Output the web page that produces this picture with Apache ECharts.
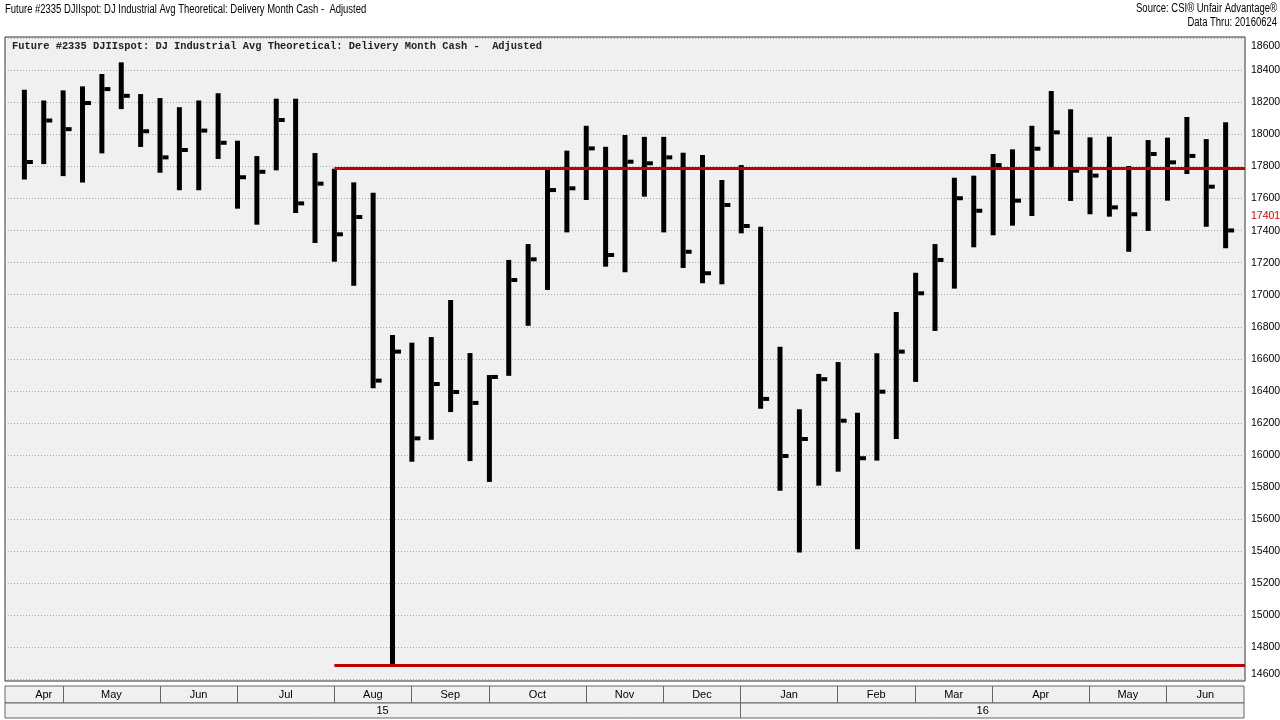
<!DOCTYPE html>
<html><head><meta charset="utf-8">
<script src="https://cdn.jsdelivr.net/npm/echarts@6/dist/echarts.min.js"></script>
<style>html,body{margin:0;padding:0;background:#fff}#c{width:1280px;height:720px}</style>
</head><body><div id="c"></div>
<script>
// Weekly bars (week ending Friday)
const weeks = [
 '2015-04-17','2015-04-24','2015-05-01','2015-05-08','2015-05-15','2015-05-22','2015-05-29',
 '2015-06-05','2015-06-12','2015-06-19','2015-06-26','2015-07-03','2015-07-10','2015-07-17',
 '2015-07-24','2015-07-31','2015-08-07','2015-08-14','2015-08-21','2015-08-28','2015-09-04',
 '2015-09-11','2015-09-18','2015-09-25','2015-10-02','2015-10-09','2015-10-16','2015-10-23',
 '2015-10-30','2015-11-06','2015-11-13','2015-11-20','2015-11-27','2015-12-04','2015-12-11',
 '2015-12-18','2015-12-25','2016-01-01','2016-01-08','2016-01-15','2016-01-22','2016-01-29',
 '2016-02-05','2016-02-12','2016-02-19','2016-02-26','2016-03-04','2016-03-11','2016-03-18',
 '2016-03-25','2016-04-01','2016-04-08','2016-04-15','2016-04-22','2016-04-29','2016-05-06',
 '2016-05-13','2016-05-20','2016-05-27','2016-06-03','2016-06-10','2016-06-17','2016-06-24'
];
const highs = [
 18279,18212,18275,18300,18377,18450,18252,18227,18170,18212,18257,17961,17865,18223,
 18223,17884,17786,17701,17636,16749,16701,16736,16967,16636,16499,17217,17316,17795,
 17899,18054,17923,17996,17985,17985,17886,17872,17716,17809,17424,16676,16285,16506,
 16580,16264,16635,16892,17137,17316,17730,17743,17878,17907,18054,18271,18157,17982,
 17986,17803,17965,17980,18109,17971,18076
];
const lows = [
 17719,17815,17740,17700,17882,18158,17922,17761,17652,17652,17847,17537,17437,17776,
 17510,17323,17206,17056,16416,14690,15958,16095,16268,15962,15832,16494,16806,17030,
 17389,17591,17175,17140,17612,17389,17167,17071,17065,17383,16289,15777,15391,15809,
 15896,15412,15965,16100,16456,16774,17038,17296,17371,17431,17491,17795,17585,17502,
 17487,17268,17398,17587,17753,17424,17290
];
const closes = [
 17828,18087,18033,18196,18283,18241,18020,17857,17903,18024,17948,17733,17767,18090,
 17570,17693,17377,17485,16464,16645,16104,16443,16393,16325,16487,17092,17221,17653,
 17664,17913,17248,17830,17820,17857,17268,17134,17560,17429,16350,15994,16100,16473,
 16214,15980,16395,16645,17009,17217,17602,17524,17809,17587,17911,18013,17774,17743,
 17545,17502,17878,17826,17866,17674,17401
];
const yTicks = [14600,14800,15000,15200,15400,15600,15800,16000,16200,16400,16600,16800,
 17000,17200,17400,17600,17800,18000,18200,18400,18600];
const monthNames = ['Jan','Feb','Mar','Apr','May','Jun','Jul','Aug','Sep','Oct','Nov','Dec'];
const resistance = 17786;
const support = 14690;
const lineStartWeek = 16;
const lastClose = 17401;
const yMin = 14590, yMax = 18608;
const titleText = 'Future #2335 DJIIspot: DJ Industrial Avg Theoretical: Delivery Month Cash -  Adjusted';

const N = weeks.length;
function groupBy(keyLen, lastEnd){
  const g = [];
  weeks.forEach((d,i)=>{ const k=d.slice(0,keyLen); if(!g.length||g[g.length-1].key!==k) g.push({key:k,start:i}); });
  g.forEach((x,k)=>{ const end = k<g.length-1 ? g[k+1].start : lastEnd; x.center=(x.start+end)/2; });
  return g;
}
const months = groupBy(7, N);
const years = groupBy(4, N-1);
const monthTicks = months.slice(1).map(g=>g.start);
const yearTicks = years.slice(1).map(g=>g.start);

const sans = "'Liberation Sans Narrow','Arial Narrow','Liberation Sans',Arial,sans-serif";
const chart = echarts.init(document.getElementById('c'), null, {renderer:'canvas'});
const xCommon = {type:'value', min:-1, max:N, splitLine:{show:false}};
const gridCommon = {left:5, outerBoundsMode:'none', containLabel:false};
chart.setOption({
  animation:false,
  backgroundColor:'#ffffff',
  graphic:[
    {type:'text', x:5, y:4, scaleX:0.79, style:{text:titleText, font:"12px 'Liberation Sans',Arial,sans-serif", fill:'#000', textVerticalAlign:'top'}},
    {type:'text', x:1277, y:3, scaleX:0.79, style:{text:'Source: CSI® Unfair Advantage®', font:"12px 'Liberation Sans',Arial,sans-serif", fill:'#000', textAlign:'right', textVerticalAlign:'top'}},
    {type:'text', x:1277, y:17, scaleX:0.79, style:{text:'Data Thru: 20160624', font:"12px 'Liberation Sans',Arial,sans-serif", fill:'#000', textAlign:'right', textVerticalAlign:'top'}},
    {type:'text', x:12, y:41, style:{text:titleText, font:"bold 10.4px 'Liberation Mono','Courier New',monospace", fill:'#222', textVerticalAlign:'top'}}
  ],
  grid:[
    Object.assign({right:35, top:37, height:644, show:true, backgroundColor:'#f0f0f0', borderColor:'#333', borderWidth:1}, gridCommon),
    Object.assign({right:36, top:686, height:17, show:true, backgroundColor:'#f0f0f0', borderColor:'#666', borderWidth:1}, gridCommon),
    Object.assign({right:36, top:703, height:15, show:true, backgroundColor:'#f0f0f0', borderColor:'#666', borderWidth:1}, gridCommon)
  ],
  xAxis:[
    Object.assign({gridIndex:0, show:false}, xCommon),
    Object.assign({gridIndex:1, axisLine:{show:false},
      axisTick:{show:true, inside:true, length:17, customValues:monthTicks, lineStyle:{color:'#666'}},
      axisLabel:{inside:true, margin:3, customValues:months.map(g=>g.center), fontFamily:sans, fontSize:11, color:'#000',
        formatter:v=>{const g=months.find(m=>Math.abs(m.center-v)<1e-6); return g?monthNames[+g.key.slice(5,7)-1]:'';}}}, xCommon),
    Object.assign({gridIndex:2, axisLine:{show:false},
      axisTick:{show:true, inside:true, length:15, customValues:yearTicks, lineStyle:{color:'#666'}},
      axisLabel:{inside:true, margin:2, customValues:years.map(g=>g.center), fontFamily:sans, fontSize:11, color:'#000',
        formatter:v=>{const g=years.find(m=>Math.abs(m.center-v)<1e-6); return g?g.key.slice(2):'';}}}, xCommon)
  ],
  yAxis:[
    {type:'value', gridIndex:0, position:'right', min:yMin, max:yMax,
     axisLine:{show:false}, axisTick:{show:false, customValues:yTicks},
     splitLine:{show:true, lineStyle:{color:'#a8a8a8', type:[1,2], width:1}},
     axisLabel:{customValues:yTicks, margin:6, fontFamily:sans, fontSize:10.5, color:'#000',
       formatter:v=> v===yTicks[yTicks.length-1] ? '{hi|'+v+'}' : (v===yTicks[0] ? '{lo|'+v+'}' : String(v)),
       rich:{hi:{padding:[15,0,0,0], fontFamily:sans, fontSize:10.5}, lo:{padding:[0,0,10,0], fontFamily:sans, fontSize:10.5}}}},
    {type:'value', gridIndex:0, position:'right', min:yMin, max:yMax,
     axisLine:{show:false}, axisTick:{show:false}, splitLine:{show:false},
     axisLabel:{customValues:[lastClose], margin:6, fontFamily:sans, fontSize:10.5, color:'#e00000',
       formatter:v=>'{r|'+v+'}', rich:{r:{padding:[0,0,28,0], fontFamily:sans, fontSize:10.5, color:'#e00000'}}}},
    {type:'value', gridIndex:1, show:false},
    {type:'value', gridIndex:2, show:false}
  ],
  series:[{
    type:'custom', xAxisIndex:0, yAxisIndex:0,
    data: weeks.map((d,i)=>[i, highs[i], lows[i], closes[i]]),
    renderItem:(params, api)=>{
      const i=api.value(0);
      const pH=api.coord([i,api.value(1)]), pL=api.coord([i,api.value(2)]), pC=api.coord([i,api.value(3)]);
      const w=5;
      return {type:'group', children:[
        {type:'rect', shape:{x:pH[0]-w/2, y:pH[1], width:w, height:pL[1]-pH[1]}, style:{fill:'#000'}},
        {type:'rect', shape:{x:pH[0]+w/2, y:pC[1]-2, width:6, height:4}, style:{fill:'#000'}}
      ]};
    },
    markLine:{silent:true, symbol:'none', label:{show:false},
      lineStyle:{color:'#c00000', width:3, type:'solid'},
      data:[
        [{coord:[lineStartWeek, resistance]},{coord:[N, resistance]}],
        [{coord:[lineStartWeek, support]},{coord:[N, support]}]
      ]}
  }]
});
</script></body></html>
